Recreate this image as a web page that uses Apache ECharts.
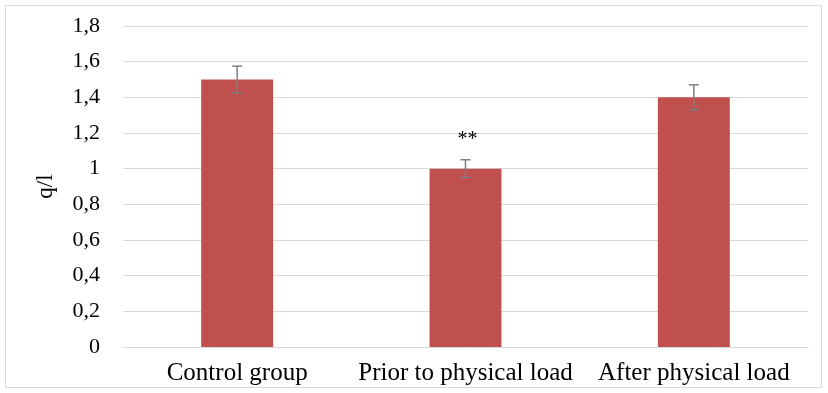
<!DOCTYPE html>
<html>
<head>
<meta charset="utf-8">
<script src="https://cdn.jsdelivr.net/npm/echarts@6/dist/echarts.min.js"></script>
<style>
html,body{margin:0;padding:0;background:#fff;}
#c{width:828px;height:393px;}
</style>
</head>
<body>
<div id="c"></div>
<script>
const categories = ['Control group', 'Prior to physical load', 'After physical load'];
const means = [1.5, 1.0, 1.4];
const errors = [0.075, 0.05, 0.07];
const significance = ['', '**', ''];
const yTicks = {min: 0, max: 1.8, interval: 0.2};

const chart = echarts.init(document.getElementById('c'));
const errData = means.map((m, i) => [i, m - errors[i], m + errors[i], significance[i]]);
const font = '"Liberation Serif", "Times New Roman", serif';

chart.setOption({
  animation: false,
  graphic: [{
    type: 'rect', shape: {x: 5.5, y: 5.5, width: 816, height: 382},
    style: {fill: 'none', stroke: '#d9d9d9', lineWidth: 1}, silent: true
  }],
  grid: {left: 123, right: 20, top: 26, bottom: 46},
  xAxis: {
    type: 'category', data: categories,
    axisLine: {lineStyle: {color: '#d9d9d9', width: 1}},
    axisTick: {show: false},
    axisLabel: {color: '#000', fontFamily: font, fontSize: 25, margin: 14, interval: 0}
  },
  yAxis: {
    type: 'value', min: yTicks.min, max: yTicks.max, interval: yTicks.interval,
    name: 'q/l', nameLocation: 'middle', nameGap: 66, nameRotate: 90,
    nameTextStyle: {color: '#000', fontFamily: font, fontSize: 23},
    axisLine: {show: false}, axisTick: {show: false},
    splitLine: {lineStyle: {color: '#d9d9d9', width: 1}},
    axisLabel: {
      color: '#000', fontFamily: font, fontSize: 22, margin: 23,
      formatter: v => { const r = Math.round(v * 10) / 10; return Number.isInteger(r) ? String(r) : r.toFixed(1).replace('.', ','); }
    }
  },
  series: [{
    type: 'bar', data: means, barWidth: '31.5%',
    itemStyle: {color: '#c0504d'}
  }, {
    type: 'custom', data: errData,
    renderItem: (params, api) => {
      const x = api.value(0);
      const lo = api.coord([x, api.value(1)]);
      const hi = api.coord([x, api.value(2)]);
      const cap = 5;
      const st = {stroke: '#7f7f7f', lineWidth: 1.5};
      const children = [
        {type: 'line', shape: {x1: lo[0], y1: lo[1], x2: hi[0], y2: hi[1]}, style: st},
        {type: 'line', shape: {x1: lo[0]-cap, y1: lo[1], x2: lo[0]+cap, y2: lo[1]}, style: st},
        {type: 'line', shape: {x1: hi[0]-cap, y1: hi[1], x2: hi[0]+cap, y2: hi[1]}, style: st}
      ];
      const sig = significance[params.dataIndex];
      if (sig) {
        children.push({type: 'text', style: {text: sig, x: hi[0] + 2, y: hi[1] - 20, align: 'center', verticalAlign: 'middle', fill: '#000', font: '20px ' + font}});
      }
      return {type: 'group', children};
    },
    z: 5
  }]
});
</script>
</body>
</html>
